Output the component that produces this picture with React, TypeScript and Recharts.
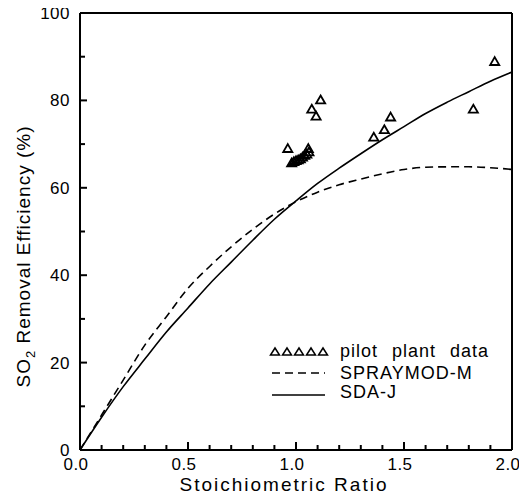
import React from 'react';
import { ComposedChart, Line, Scatter, XAxis, YAxis, ZAxis, ReferenceLine, Legend } from 'recharts';

// Stoichiometric ratio grid for model curves
const ratio = [0, 0.1, 0.2, 0.3, 0.4, 0.5, 0.6, 0.7, 0.8, 0.9, 1.0, 1.1, 1.2, 1.3, 1.4, 1.5, 1.6, 1.7, 1.8, 1.9, 2.0];
// SDA-J model (solid)
const sdaJ = [0, 7.5, 14.5, 20.8, 27, 32.5, 38, 43, 48, 52.8, 57, 61, 64.5, 67.8, 71, 74, 77, 79.6, 82, 84.4, 86.5];
// SPRAYMOD-M model (dashed)
const spraymodM = [0, 8, 16, 24, 30.5, 37, 42, 46.5, 50.5, 54, 56.8, 59, 60.7, 62, 63.2, 64.2, 64.7, 64.8, 64.8, 64.6, 64.2];
// pilot plant data
const pilotX = [0.962, 1.057, 0.98, 0.99, 1.0, 1.01, 1.02, 1.03, 1.04, 1.05, 1.06, 1.073, 1.093, 1.114, 1.36, 1.409, 1.438, 1.821, 1.92];
const pilotY = [68.8, 68.8, 65.5, 65.8, 66.0, 66.2, 66.4, 66.8, 67.2, 67.5, 68.0, 77.8, 76.2, 79.9, 71.4, 73.1, 76.0, 77.8, 88.7];

const xTicks = [0, 0.1, 0.2, 0.3, 0.4, 0.5, 0.6, 0.7, 0.8, 0.9, 1.0, 1.1, 1.2, 1.3, 1.4, 1.5, 1.6, 1.7, 1.8, 1.9, 2.0];
const yTicks = [0, 10, 20, 30, 40, 50, 60, 70, 80, 90, 100];

const curveData = ratio.map((x, i) => ({ x, sda: sdaJ[i], spray: spraymodM[i] }));
const pilotData = pilotX.map((x, i) => ({ x, y: pilotY[i] }));

const FONT = '"Liberation Sans", Arial, sans-serif';
const M = 4;
const TW = 2;
const TC = '#000';

const isMajorX = (v: number) => Math.abs(v * 2 - Math.round(v * 2)) < 1e-6;
const isMajorY = (v: number) => v % 20 === 0;

const XTick = (props: any) => {
  const { x, y, payload } = props;
  const v = payload.value as number;
  const major = isMajorX(v);
  const ay = y - M;
  return (
    <g>
      <line x1={x} x2={x} y1={ay} y2={ay - (major ? 8 : 5)} stroke={TC} strokeWidth={TW} />
      {major && (
        <text x={x - 4} y={ay + 20} textAnchor="middle" fontFamily={FONT} fontSize={17} fill="#000" letterSpacing={0.5}>
          {v.toFixed(1)}
        </text>
      )}
    </g>
  );
};

const YTickLeft = (props: any) => {
  const { x, y, payload } = props;
  const v = payload.value as number;
  const major = isMajorY(v);
  const ax = x + M;
  return (
    <g>
      <line x1={ax} x2={ax + (major ? 7 : 5)} y1={y} y2={y} stroke={TC} strokeWidth={TW} />
      {major && (
        <text x={ax - 10} y={y + 6} textAnchor="end" fontFamily={FONT} fontSize={17} fill="#000" letterSpacing={0.5}>
          {v}
        </text>
      )}
    </g>
  );
};

const YTickRight = (props: any) => {
  const { x, y } = props;
  const ax = x - M;
  return <line x1={ax} x2={ax - 5} y1={y} y2={y} stroke={TC} strokeWidth={TW} />;
};

const YLabel = (props: any) => {
  const vb = props.viewBox || {};
  const cx = 22;
  const cy = (vb.y ?? 5) + (vb.height ?? 437) / 2 + 25;
  return (
    <text
      x={cx}
      y={cy}
      transform={`rotate(-90, ${cx}, ${cy})`}
      textAnchor="middle"
      fontFamily={FONT}
      fontSize={19}
      letterSpacing={1}
      fill="#000"
    >
      SO<tspan fontSize={13} dy={5}>2</tspan>
      <tspan dy={-5}> Removal Efficiency (%)</tspan>
    </text>
  );
};

const XLabel = (props: any) => {
  const vb = props.viewBox || {};
  const cx = (vb.x ?? 72) + (vb.width ?? 432) / 2 - 12;
  const cy = (vb.y ?? 442) + 41;
  return (
    <text x={cx} y={cy} textAnchor="middle" fontFamily={FONT} fontSize={19} letterSpacing={2} fill="#000">
      Stoichiometric Ratio
    </text>
  );
};

const LegendContent = () => {
  const tri = [0, 1, 2, 3, 4];
  return (
    <svg width={270} height={80}>
      {tri.map((i) => {
        const cx = 12 + i * 12;
        const cy = 18;
        return (
          <polygon
            key={i}
            points={`${cx},${cy - 4} ${cx - 4.5},${cy + 3} ${cx + 4.5},${cy + 3}`}
            fill="none"
            stroke="#000"
            strokeWidth={1.5}
          />
        );
      })}
      <text x={77} y={23} fontFamily={FONT} fontSize={18} letterSpacing={1} wordSpacing={8} fill="#000">pilot plant data</text>
      <line x1={9} x2={62} y1={39} y2={39} stroke="#000" strokeWidth={1.6} strokeDasharray="8 5" />
      <text x={77} y={45} fontFamily={FONT} fontSize={18} letterSpacing={1} fill="#000">SPRAYMOD-M</text>
      <line x1={9} x2={62} y1={61} y2={61} stroke="#000" strokeWidth={1.6} />
      <text x={77} y={64} fontFamily={FONT} fontSize={18} letterSpacing={1} fill="#000">SDA-J</text>
    </svg>
  );
};

export default function App() {
  return (
    <div style={{ width: 519, height: 490, background: '#fff' }}>
      <ComposedChart width={519} height={490} margin={{ top: 5, right: 10, bottom: 8, left: 0 }}>
        <XAxis
          dataKey="x"
          type="number"
          domain={[0, 2]}
          ticks={xTicks}
          interval={0}
          tickSize={0}
          tickMargin={M}
          tickLine={false}
          tick={<XTick />}
          axisLine={{ stroke: '#000', strokeWidth: 2 }}
          height={40}
          label={<XLabel />}
        />
        <YAxis
          yAxisId="l"
          type="number"
          domain={[0, 100]}
          ticks={yTicks}
          interval={0}
          tickSize={0}
          tickMargin={M}
          tickLine={false}
          tick={<YTickLeft />}
          axisLine={{ stroke: '#000', strokeWidth: 2 }}
          width={72}
          label={<YLabel />}
        />
        <YAxis
          yAxisId="r"
          orientation="right"
          type="number"
          domain={[0, 100]}
          ticks={yTicks}
          interval={0}
          tickSize={0}
          tickMargin={M}
          tickLine={false}
          tick={<YTickRight />}
          axisLine={{ stroke: '#000', strokeWidth: 2 }}
          width={5}
        />
        <ZAxis range={[36, 36]} />
        <ReferenceLine yAxisId="l" y={100} stroke="#000" strokeWidth={2} />
        <Line
          yAxisId="l"
          data={curveData}
          dataKey="spray"
          type="monotone"
          stroke="#000"
          strokeWidth={1.6}
          strokeDasharray="8 5"
          dot={false}
          isAnimationActive={false}
        />
        <Line
          yAxisId="l"
          data={curveData}
          dataKey="sda"
          type="monotone"
          stroke="#000"
          strokeWidth={1.6}
          dot={false}
          isAnimationActive={false}
        />
        <Scatter
          yAxisId="l"
          data={pilotData}
          dataKey="y"
          shape="triangle"
          fill="none"
          stroke="#000"
          strokeWidth={1.8}
          isAnimationActive={false}
        />
        <Legend
          verticalAlign="middle"
          align="center"
          content={<LegendContent />}
          wrapperStyle={{ position: 'absolute', left: 255, top: 326, width: 270, height: 80 }}
        />
      </ComposedChart>
    </div>
  );
}
